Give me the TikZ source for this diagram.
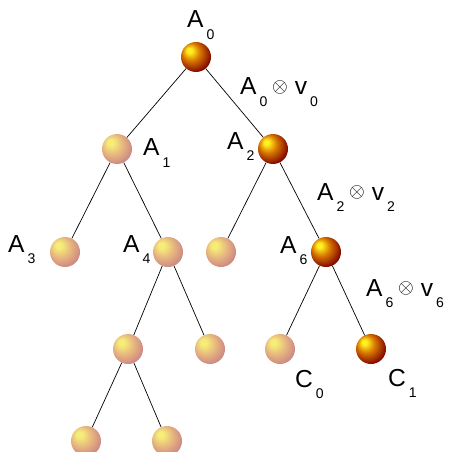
\documentclass[tikz,border=0pt]{standalone}
\usepackage{fontspec}
\setmainfont{Liberation Sans}
\usepackage{xcolor}
\usepackage{tikz}
\usetikzlibrary{shapes,positioning,calc}

\definecolor{lhi}{RGB}{246,236,120}
\definecolor{lmid}{RGB}{226,172,128}
\definecolor{llo}{RGB}{196,124,132}
\definecolor{dhi}{RGB}{255,240,30}
\definecolor{dmid}{RGB}{215,118,0}
\definecolor{dlo}{RGB}{130,6,0}

\pgfdeclareradialshading{lightball}{\pgfpoint{-12bp}{12bp}}{%
  color(0bp)=(lhi); color(5bp)=(lhi); color(20bp)=(lmid); color(34bp)=(llo); color(50bp)=(llo)}
\pgfdeclareradialshading{darkball}{\pgfpoint{-12bp}{12bp}}{%
  color(0bp)=(dhi); color(4bp)=(dhi); color(15bp)=(dmid); color(30bp)=(dlo); color(50bp)=(dlo)}

\newcommand\sbs[1]{\kern2.5pt\raisebox{-10pt}{\fontsize{12}{12}\selectfont #1}}
\newcommand\opx{\hspace{4pt}\raisebox{2pt}{\fontsize{17}{17}\selectfont$\otimes$}\hspace{6pt}}

\begin{document}
\begin{tikzpicture}[x=0.03cm, y=-0.03cm,
        ball/.style={circle, minimum size=0.9cm, inner sep=0pt},
        light/.style={ball, shading=lightball},
        dark/.style={ball, shading=darkball},
        lab/.style={inner sep=0pt, anchor=base west, font=\fontsize{21}{21}\selectfont},
        edge/.style={line width=0.6pt, black}
    ]

    \useasboundingbox (0,0) rectangle (449,452);

    % Balls
    \node[dark]  (a0)  at (196, 57) {};
    \node[light] (a1)  at (117,149) {};
    \node[dark]  (a2)  at (273,149) {};
    \node[light] (a3)  at (65, 252) {};
    \node[light] (a4)  at (168,252) {};
    \node[light] (a5)  at (221,252) {};
    \node[dark]  (a6)  at (326,252) {};
    \node[light] (a9)  at (128,349) {};
    \node[light] (a10) at (210,349) {};
    \node[light] (c0)  at (280,349) {};
    \node[dark]  (c1)  at (371,349) {};
    \node[light] (a19) at (86, 441) {};
    \node[light] (a20) at (167,441) {};

    % Edges
    \draw[edge] (a0) -- (a1);
    \draw[edge] (a0) -- (a2);
    \draw[edge] (a1) -- (a3);
    \draw[edge] (a1) -- (a4);
    \draw[edge] (a2) -- (a5);
    \draw[edge] (a2) -- (a6);
    \draw[edge] (a4) -- (a9);
    \draw[edge] (a4) -- (a10);
    \draw[edge] (a6) -- (c0);
    \draw[edge] (a6) -- (c1);
    \draw[edge] (a9) -- (a19);
    \draw[edge] (a9) -- (a20);

    % Labels
    \node[lab] (la0) at (187, 28) {A\sbs{0}};
    \node[lab] (la1) at (143,156) {A\sbs{1}};
    \node[lab] (la2) at (227,149) {A\sbs{2}};
    \node[lab] (la3) at (8,  252) {A\sbs{3}};
    \node[lab] (la4) at (123,252) {A\sbs{4}};
    \node[lab] (la6) at (280,253) {A\sbs{6}};
    \node[lab] (lc0) at (295,387) {C\sbs{0}};
    \node[lab] (lc1) at (388,386) {C\sbs{1}};

    % Edge weights
    \node[lab] (w0) at (240, 95) {A\sbs{0}\opx v\sbs{0}};
    \node[lab] (w2) at (317,200) {A\sbs{2}\opx v\sbs{2}};
    \node[lab] (w6) at (366,296) {A\sbs{6}\opx v\sbs{6}};

\end{tikzpicture}
\end{document}
